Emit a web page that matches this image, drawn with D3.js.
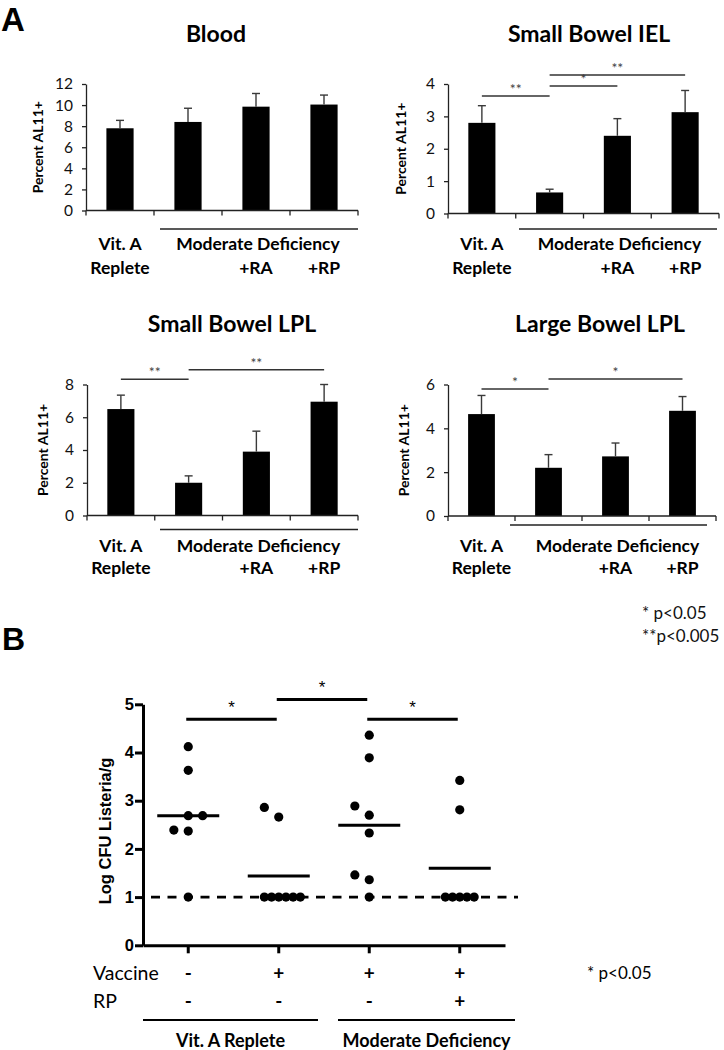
<!DOCTYPE html>
<html><head><meta charset="utf-8">
<script src="https://cdn.jsdelivr.net/npm/d3@7"></script>
<style>body{margin:0;background:#fff}svg{display:block}</style>
</head><body>
<svg id="c" width="724" height="1050"></svg>
<script>
// ---------- Panel A data ----------
const categoriesA = ["Vit. A Replete", "Moderate Deficiency", "+RA", "+RP"];
const panelTitles = ["Blood", "Small Bowel IEL", "Small Bowel LPL", "Large Bowel LPL"];
const bloodMean = [7.8, 8.4, 9.85, 10.05];
const bloodSem  = [0.75, 1.3, 1.25, 0.9];
const ielMean   = [2.8, 0.65, 2.4, 3.13];
const ielSem    = [0.53, 0.1, 0.53, 0.67];
const sbLplMean = [6.5, 2.0, 3.9, 6.95];
const sbLplSem  = [0.85, 0.42, 1.25, 1.05];
const lbLplMean = [4.65, 2.2, 2.72, 4.8];
const lbLplSem  = [0.85, 0.6, 0.61, 0.65];
const yMaxA  = [12, 4, 8, 6];
const yStepA = [2, 1, 2, 2];
const bloodSig = [];
const ielSig   = [[0, 1, 3.63, "**"], [1, 2, 3.94, "*"], [1, 3, 4.28, "**"]];
const sbLplSig = [[0, 1, 8.32, "**"], [1, 3, 8.9, "**"]];
const lbLplSig = [[0, 1, 5.8, "*"], [1, 3, 6.25, "*"]];
const legendA = ["* p<0.05", "**p<0.005"];

// ---------- Panel B data ----------
const groupsB = ["Replete, no vaccine", "Replete + vaccine", "Deficient + vaccine", "Deficient + vaccine + RP"];
const vaccineRow = ["-", "+", "+", "+"];
const rpRow = ["-", "-", "-", "+"];
const listeria1 = [4.12, 3.63, 2.69, 2.69, 2.39, 2.37, 1.0];
const listeria2 = [2.86, 2.66, 1, 1, 1, 1, 1, 1];
const listeria3 = [4.36, 3.89, 2.89, 2.70, 2.33, 1.46, 1.36, 1.0];
const listeria4 = [3.42, 2.81, 1, 1, 1, 1, 1];
const slot1 = [0, 0, 0, 2, -2, 0, 0];
const slot2 = [-2, 0, -2, -1, 0, 1, 2, 3];
const slot3 = [0, 0, -2, 0, 0, -2, 0, 0];
const slot4 = [0, 0, -2, -1, 0, 1, 2];
const meanB = [2.69, 1.44, 2.49, 1.60];
const sigB = [[0, 1, 4.69, "*"], [1, 2, 5.10, "*"], [2, 3, 4.69, "*"]];
const yTicksB = [0, 1, 2, 3, 4, 5];
const detectionLimit = 1;
const rowLabelsB = ["Vaccine", "RP"];
const groupLabelsB = ["Vit. A Replete", "Moderate Deficiency"];
const legendB = "* p<0.05";

// ---------- drawing ----------
const svg = d3.select("#c");
const FA = "Lato, 'Open Sans', sans-serif";
const FB = "'Liberation Sans', Arial, sans-serif";

svg.append("text").attr("x", 1).attr("y", 31).text("A")
  .style("font-family", FB).style("font-weight", 700).style("font-size", "33px");
svg.append("text").attr("x", 2).attr("y", 650).text("B")
  .style("font-family", FB).style("font-weight", 700).style("font-size", "32px");

const panelData = [
  {mean: bloodMean, sem: bloodSem, sig: bloodSig},
  {mean: ielMean, sem: ielSem, sig: ielSig},
  {mean: sbLplMean, sem: sbLplSem, sig: sbLplSig},
  {mean: lbLplMean, sem: lbLplSem, sig: lbLplSig}
];
const layoutA = [
  {x0: 86, x1: 358, top: 84, bot: 210.5, lx0: 160, lx1: 358, ly: 229, r1: 243, r2: 267, tx: 216, ty: 33, ylx: 37},
  {x0: 448, x1: 719, top: 84, bot: 213.5, lx0: 519, lx1: 717, ly: 229, r1: 243, r2: 267, tx: 589, ty: 33, ylx: 400},
  {x0: 87, x1: 358, top: 384.5, bot: 515.5, lx0: 160, lx1: 358, ly: 529.5, r1: 545, r2: 567, tx: 232, ty: 323, ylx: 42},
  {x0: 448, x1: 716, top: 384.5, bot: 516, lx0: 510, lx1: 707, ly: 525, r1: 545, r2: 567, tx: 600, ty: 323, ylx: 403}
];

panelData.forEach((pd, i) => {
  const L = layoutA[i];
  const g = svg.append("g");
  const x = d3.scaleBand().domain(categoriesA).range([L.x0, L.x1]).paddingInner(0.6).paddingOuter(0.3);
  const xb = d3.scaleBand().domain(categoriesA).range([L.x0, L.x1]);
  const y = d3.scaleLinear().domain([0, yMaxA[i]]).range([L.bot, L.top]);
  const cx = c => x(c) + x.bandwidth() / 2;

  g.append("text").attr("x", L.tx).attr("y", L.ty).attr("text-anchor", "middle")
    .attr("dominant-baseline", "central").text(panelTitles[i])
    .style("font-family", FA).style("font-weight", 700).style("font-size", "23px");

  g.selectAll("rect.bar").data(categoriesA).join("rect")
    .attr("x", c => x(c)).attr("width", x.bandwidth())
    .attr("y", (c, j) => y(pd.mean[j])).attr("height", (c, j) => y(0) - y(pd.mean[j]))
    .attr("fill", "#000");

  const eb = g.append("g").attr("stroke", "#3a3a3a").attr("stroke-width", 1.4);
  categoriesA.forEach((c, j) => {
    const top = y(pd.mean[j] + pd.sem[j]);
    eb.append("line").attr("x1", cx(c)).attr("x2", cx(c)).attr("y1", y(pd.mean[j])).attr("y2", top);
    eb.append("line").attr("x1", cx(c) - 4).attr("x2", cx(c) + 4).attr("y1", top).attr("y2", top);
  });

  const ya = g.append("g").attr("transform", `translate(${L.x0},0)`)
    .call(d3.axisLeft(y).tickValues(d3.range(0, yMaxA[i] + 0.001, yStepA[i]))
      .tickFormat(d3.format("d")).tickSize(4).tickPadding(9).tickSizeOuter(0));
  ya.select(".domain").attr("stroke", "#222").attr("stroke-width", 1.3);
  ya.selectAll(".tick line").attr("stroke", "#222").attr("stroke-width", 1.3);
  ya.selectAll("text").style("font-family", FA).style("font-size", "15.5px").attr("fill", "#111");

  const xa = g.append("g").attr("transform", `translate(0,${L.bot})`);
  xa.append("line").attr("x1", L.x0).attr("x2", L.x1).attr("stroke", "#222").attr("stroke-width", 1.3);
  const bounds = categoriesA.map(c => xb(c)).concat([L.x1]);
  xa.selectAll("line.tk").data(bounds).join("line").attr("class", "tk")
    .attr("x1", d => d).attr("x2", d => d).attr("y1", 0).attr("y2", 5)
    .attr("stroke", "#222").attr("stroke-width", 1.3);

  g.append("text").attr("transform", `translate(${L.ylx},${(L.top + L.bot) / 2}) rotate(-90)`)
    .attr("text-anchor", "middle").attr("dominant-baseline", "central")
    .text("Percent AL11+").style("font-family", FA).style("font-weight", 700).style("font-size", "14px");

  const lab = (tx, xx, yy) => g.append("text").attr("x", xx).attr("y", yy).attr("text-anchor", "middle")
    .attr("dominant-baseline", "central").text(tx)
    .style("font-family", FA).style("font-weight", 700).style("font-size", "17.5px");
  const vparts = categoriesA[0].split(" Replete");
  lab(vparts[0], cx(categoriesA[0]), L.r1);
  lab("Replete", cx(categoriesA[0]), L.r2);
  lab(categoriesA[1], (cx(categoriesA[1]) + cx(categoriesA[3])) / 2 + 2, L.r1);
  lab(categoriesA[2], cx(categoriesA[2]), L.r2);
  lab(categoriesA[3], cx(categoriesA[3]), L.r2);
  g.append("line").attr("x1", L.lx0).attr("x2", L.lx1).attr("y1", L.ly).attr("y2", L.ly)
    .attr("stroke", "#222").attr("stroke-width", 1.4);

  pd.sig.forEach(s => {
    const a = cx(categoriesA[s[0]]), b = cx(categoriesA[s[1]]), yy = y(s[2]);
    g.append("line").attr("x1", a).attr("x2", b).attr("y1", yy).attr("y2", yy)
      .attr("stroke", "#333").attr("stroke-width", 1.5);
    g.append("text").attr("x", (a + b) / 2).attr("y", yy - 2).attr("text-anchor", "middle")
      .text(s[3]).style("font-family", FA).style("font-size", "14px").attr("fill", "#444");
  });
});

legendA.forEach((t, i) => {
  svg.append("text").attr("x", 642).attr("y", 612 + i * 23).attr("dominant-baseline", "central")
    .text(t).style("font-family", FA).style("font-size", "17px").attr("fill", "#111");
});

// ---------- Panel B ----------
const gB = svg.append("g");
const xB = d3.scaleBand().domain(groupsB).range([143, 505]);
const yB = d3.scaleLinear().domain([0, 5]).range([945.3, 704.3]);
const cB = c => xB(c) + xB.bandwidth() / 2;
const slotW = 7.2;

gB.append("line").attr("x1", 151).attr("x2", 518).attr("y1", yB(detectionLimit)).attr("y2", yB(detectionLimit))
  .attr("stroke", "#000").attr("stroke-width", 2.6).attr("stroke-dasharray", "9,7.5");

const yaB = gB.append("g").attr("transform", "translate(143,0)")
  .call(d3.axisLeft(yB).tickValues(yTicksB).tickFormat(d3.format("d")).tickSize(8).tickPadding(1).tickSizeOuter(0));
yaB.select(".domain").attr("stroke", "#000").attr("stroke-width", 3);
yaB.selectAll(".tick line").attr("stroke", "#000").attr("stroke-width", 3);
yaB.selectAll("text").style("font-family", FB).style("font-weight", 700).style("font-size", "16.5px").attr("fill", "#000");

const xaB = gB.append("g").attr("transform", `translate(0,${yB(0)})`)
  .call(d3.axisBottom(xB).tickSize(8).tickSizeOuter(0).tickFormat(""));
xaB.select(".domain").attr("stroke", "#000").attr("stroke-width", 3);
xaB.selectAll(".tick line").attr("stroke", "#000").attr("stroke-width", 3);

gB.append("text").attr("transform", `translate(105,831) rotate(-90)`).attr("text-anchor", "middle")
  .attr("dominant-baseline", "central").text("Log CFU Listeria/g")
  .style("font-family", FB).style("font-weight", 700).style("font-size", "16.5px");

const allPts = [listeria1, listeria2, listeria3, listeria4];
const allSlots = [slot1, slot2, slot3, slot4];
allPts.forEach((vals, gi) => {
  gB.append("g").selectAll("circle").data(vals).join("circle")
    .attr("cx", (v, k) => cB(groupsB[gi]) + allSlots[gi][k] * slotW)
    .attr("cy", v => yB(v)).attr("r", 4.6).attr("fill", "#000");
});

gB.selectAll("line.mean").data(meanB).join("line").attr("class", "mean")
  .attr("x1", (m, i) => cB(groupsB[i]) - 31).attr("x2", (m, i) => cB(groupsB[i]) + 31)
  .attr("y1", m => yB(m)).attr("y2", m => yB(m))
  .attr("stroke", "#000").attr("stroke-width", 3);

sigB.forEach(s => {
  const a = cB(groupsB[s[0]]) - 2, b = cB(groupsB[s[1]]) - 2, yy = yB(s[2]);
  gB.append("line").attr("x1", a).attr("x2", b).attr("y1", yy).attr("y2", yy)
    .attr("stroke", "#000").attr("stroke-width", 3);
  gB.append("text").attr("x", (a + b) / 2).attr("y", yy - 6).attr("text-anchor", "middle")
    .text(s[3]).style("font-family", FB).style("font-size", "17px");
});

const rowY = [972, 1000];
[vaccineRow, rpRow].forEach((row, r) => {
  gB.append("text").attr("x", 93).attr("y", rowY[r]).attr("dominant-baseline", "central")
    .text(rowLabelsB[r]).style("font-family", FA).style("font-size", "19.5px");
  gB.append("g").selectAll("text").data(row).join("text")
    .attr("x", (d, i) => cB(groupsB[i])).attr("y", rowY[r]).attr("text-anchor", "middle")
    .attr("dominant-baseline", "central").text(d => d)
    .style("font-family", FA).style("font-weight", 700).style("font-size", "19px");
});

const grpSpans = [[143, 318], [338, 515]];
grpSpans.forEach((sp, i) => {
  gB.append("line").attr("x1", sp[0]).attr("x2", sp[1]).attr("y1", 1020).attr("y2", 1020)
    .attr("stroke", "#000").attr("stroke-width", 2);
  gB.append("text").attr("x", (sp[0] + sp[1]) / 2).attr("y", 1040).attr("text-anchor", "middle")
    .attr("dominant-baseline", "central").text(groupLabelsB[i])
    .style("font-family", FA).style("font-weight", 700).style("font-size", "18px");
});

svg.append("text").attr("x", 587).attr("y", 972).attr("dominant-baseline", "central")
  .text(legendB).style("font-family", FA).style("font-size", "17px");
</script>
</body></html>
